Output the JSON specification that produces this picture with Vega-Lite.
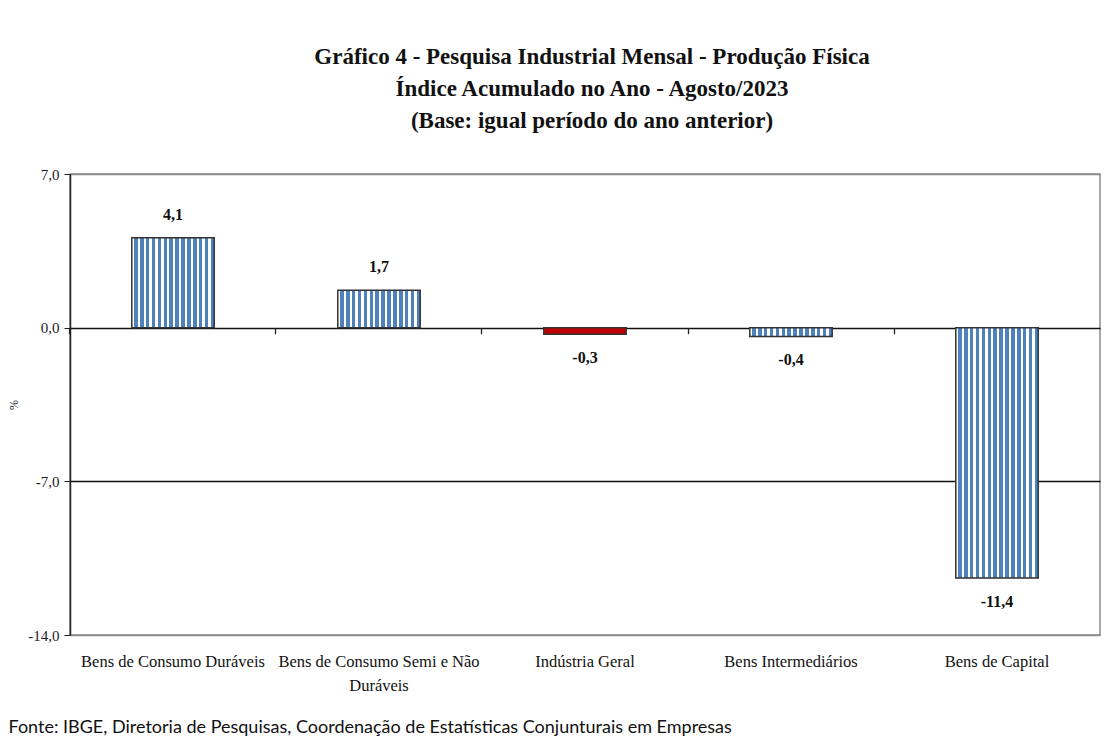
{
  "$schema": "https://vega.github.io/schema/vega-lite/v6.json",
  "width": 1030,
  "height": 461,
  "autosize": {"type": "none"},
  "padding": {"left": 70, "top": 174, "right": 9, "bottom": 105},
  "background": "white",
  "config": {
    "locale": {"number": {"decimal": ",", "thousands": ".", "grouping": [3], "currency": ["R$", ""], "minus": "-"}},
    "view": {"stroke": "#8c8c8c", "strokeWidth": 1.5},
    "title": {"font": "Liberation Serif", "fontSize": 23, "fontWeight": "bold", "color": "#111111", "lineHeight": 32, "anchor": "middle", "offset": 34, "dx": 7, "frame": "group"},
    "axis": {"labelFont": "Liberation Serif", "labelColor": "#1a1a2e", "titleFont": "Liberation Serif"}
  },
  "title": {"text": ["Gráfico 4 - Pesquisa Industrial Mensal - Produção Física", "Índice Acumulado no Ano - Agosto/2023", "(Base: igual período do ano anterior)"]},
  "data": {"values": [
    {"categoria": "Bens de Consumo Duráveis", "valor": 4.1},
    {"categoria": "Bens de Consumo Semi e Não Duráveis", "valor": 1.7},
    {"categoria": "Indústria Geral", "valor": -0.3},
    {"categoria": "Bens Intermediários", "valor": -0.4},
    {"categoria": "Bens de Capital", "valor": -11.4}
  ]},
  "resolve": {"axis": {"x": "independent"}},
  "layer": [
    {
      "mark": {"type": "bar", "stroke": "#333333", "strokeWidth": 1.5},
      "encoding": {
        "x": {
          "field": "categoria", "type": "nominal", "sort": null,
          "scale": {"paddingInner": 0.6, "paddingOuter": 0.3},
          "axis": {
            "orient": "bottom",
            "labelAngle": 0, "ticks": false, "domain": false,
            "labelFontSize": 16.5, "labelPadding": 26, "labelLineHeight": 24, "labelLimit": 300,
            "labelBaseline": "middle", "labelColor": "#111111",
            "labelExpr": "datum.label == 'Bens de Consumo Semi e Não Duráveis' ? ['Bens de Consumo Semi e Não', 'Duráveis'] : datum.label",
            "title": "Fonte: IBGE, Diretoria de Pesquisas, Coordenação de Estatísticas Conjunturais em Empresas",
            "titleFont": "Lato", "titleFontSize": 18, "titleFontWeight": "normal", "titleColor": "#111111",
            "titleAnchor": "start", "titleAlign": "left", "titleBaseline": "middle",
            "titleX": -62, "titleY": 92
          }
        },
        "y": {
          "field": "valor", "type": "quantitative",
          "scale": {"domain": [-14, 7], "nice": false, "zero": false},
          "axis": {
            "values": [-14, -7, 0, 7], "format": ".1f",
            "labelFontSize": 15, "labelPadding": 5,
            "tickSize": 6, "tickColor": "#222222", "domainColor": "#222222", "domainWidth": 1.5,
            "grid": true, "gridWidth": 1.3,
            "gridColor": {"condition": {"test": "datum.value === 0 || datum.value === -7", "value": "#111111"}, "value": "#8c8c8c"},
            "title": "%", "titleFontSize": 12, "titleFontWeight": "normal", "titleColor": "#111111", "titlePadding": 7
          }
        },
        "color": {
          "condition": {"test": "datum.categoria === 'Indústria Geral'", "value": "#c00000"},
          "value": {"gradient": "linear", "x1": 0, "x2": 1, "y1": 0, "y2": 0, "stops": [
            {"offset": 0, "color": "#ffffff"}, {"offset": 0.0286, "color": "#ffffff"}, {"offset": 0.0286, "color": "#4f81bd"}, {"offset": 0.0714, "color": "#4f81bd"},
            {"offset": 0.0714, "color": "#ffffff"}, {"offset": 0.1, "color": "#ffffff"}, {"offset": 0.1, "color": "#4f81bd"}, {"offset": 0.1429, "color": "#4f81bd"},
            {"offset": 0.1429, "color": "#ffffff"}, {"offset": 0.1714, "color": "#ffffff"}, {"offset": 0.1714, "color": "#4f81bd"}, {"offset": 0.2143, "color": "#4f81bd"},
            {"offset": 0.2143, "color": "#ffffff"}, {"offset": 0.2429, "color": "#ffffff"}, {"offset": 0.2429, "color": "#4f81bd"}, {"offset": 0.2857, "color": "#4f81bd"},
            {"offset": 0.2857, "color": "#ffffff"}, {"offset": 0.3143, "color": "#ffffff"}, {"offset": 0.3143, "color": "#4f81bd"}, {"offset": 0.3571, "color": "#4f81bd"},
            {"offset": 0.3571, "color": "#ffffff"}, {"offset": 0.3857, "color": "#ffffff"}, {"offset": 0.3857, "color": "#4f81bd"}, {"offset": 0.4286, "color": "#4f81bd"},
            {"offset": 0.4286, "color": "#ffffff"}, {"offset": 0.4571, "color": "#ffffff"}, {"offset": 0.4571, "color": "#4f81bd"}, {"offset": 0.5, "color": "#4f81bd"},
            {"offset": 0.5, "color": "#ffffff"}, {"offset": 0.5286, "color": "#ffffff"}, {"offset": 0.5286, "color": "#4f81bd"}, {"offset": 0.5714, "color": "#4f81bd"},
            {"offset": 0.5714, "color": "#ffffff"}, {"offset": 0.6, "color": "#ffffff"}, {"offset": 0.6, "color": "#4f81bd"}, {"offset": 0.6429, "color": "#4f81bd"},
            {"offset": 0.6429, "color": "#ffffff"}, {"offset": 0.6714, "color": "#ffffff"}, {"offset": 0.6714, "color": "#4f81bd"}, {"offset": 0.7143, "color": "#4f81bd"},
            {"offset": 0.7143, "color": "#ffffff"}, {"offset": 0.7429, "color": "#ffffff"}, {"offset": 0.7429, "color": "#4f81bd"}, {"offset": 0.7857, "color": "#4f81bd"},
            {"offset": 0.7857, "color": "#ffffff"}, {"offset": 0.8143, "color": "#ffffff"}, {"offset": 0.8143, "color": "#4f81bd"}, {"offset": 0.8571, "color": "#4f81bd"},
            {"offset": 0.8571, "color": "#ffffff"}, {"offset": 0.8857, "color": "#ffffff"}, {"offset": 0.8857, "color": "#4f81bd"}, {"offset": 0.9286, "color": "#4f81bd"},
            {"offset": 0.9286, "color": "#ffffff"}, {"offset": 0.9571, "color": "#ffffff"}, {"offset": 0.9571, "color": "#4f81bd"}, {"offset": 1, "color": "#4f81bd"}
          ]}
        }
      }
    },
    {
      "transform": [{"filter": "datum.valor >= 0"}],
      "mark": {"type": "text", "baseline": "middle", "dy": -23, "font": "Liberation Serif", "fontSize": 16, "fontWeight": "bold", "color": "#111111"},
      "encoding": {
        "x": {
          "field": "categoria", "type": "nominal", "sort": null,
          "axis": {"orient": "bottom", "offset": -307.3, "labels": false, "domain": false, "ticks": true, "bandPosition": -0.75, "tickSize": 6, "tickColor": "#222222", "tickWidth": 1.3, "title": null}
        },
        "y": {"field": "valor", "type": "quantitative"},
        "text": {"field": "valor", "type": "quantitative", "format": ".1f"}
      }
    },
    {
      "transform": [{"filter": "datum.valor < 0"}],
      "mark": {"type": "text", "baseline": "middle", "dy": 24, "font": "Liberation Serif", "fontSize": 16, "fontWeight": "bold", "color": "#111111"},
      "encoding": {
        "x": {"field": "categoria", "type": "nominal", "sort": null, "axis": null},
        "y": {"field": "valor", "type": "quantitative"},
        "text": {"field": "valor", "type": "quantitative", "format": ".1f"}
      }
    }
  ]
}
